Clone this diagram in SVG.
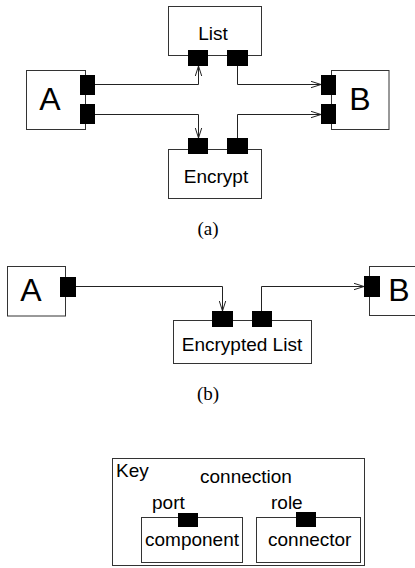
<svg xmlns="http://www.w3.org/2000/svg" width="415" height="568" viewBox="0 0 415 568">
<defs>
<style>
.box{fill:#fff;stroke:#333;stroke-width:1}
.port{fill:#000;stroke:none}
.wire{fill:none;stroke:#222;stroke-width:1}
.lbl{font-family:"Liberation Sans",Arial,sans-serif;font-size:19px;fill:#000}
.big{font-family:"Liberation Sans",Arial,sans-serif;font-size:32px;fill:#000}
.cap{font-family:"Liberation Serif","Times New Roman",serif;font-size:19px;fill:#000}
</style>
<marker id="arr" viewBox="0 0 10 8" refX="10" refY="4" markerWidth="10" markerHeight="8" markerUnits="userSpaceOnUse" orient="auto">
<path d="M0,0.8 L10,4 L0,7.2" fill="none" stroke="#222" stroke-width="1"/>
</marker>
</defs>
<rect width="415" height="568" fill="#fff"/>

<g id="connectors">
<polyline class="wire" points="95,84.5 198.5,84.5 198.5,66" marker-end="url(#arr)"/>
<polyline class="wire" points="95,114.5 198.5,114.5 198.5,138" marker-end="url(#arr)"/>
<polyline class="wire" points="237.5,66 237.5,84.5 321,84.5" marker-end="url(#arr)"/>
<polyline class="wire" points="237.5,138 237.5,114.5 321,114.5" marker-end="url(#arr)"/>
<polyline class="wire" points="76,286.5 222.5,286.5 222.5,311" marker-end="url(#arr)"/>
<polyline class="wire" points="261.5,311 261.5,286.5 364,286.5" marker-end="url(#arr)"/>
<polyline class="wire" points="188.5,513 188.5,488.5 306.5,488.5 306.5,512" marker-end="url(#arr)"/>
</g>

<g id="a-list">
<rect class="box" x="168.5" y="6.5" width="93" height="49"/>
<text class="lbl" x="213" y="40" text-anchor="middle">List</text>
<rect class="port" x="188" y="50" width="20" height="16"/>
<rect class="port" x="227" y="50" width="21" height="16"/>
</g>
<g id="a-A">
<rect class="box" x="26.5" y="70.5" width="59" height="59"/>
<text class="big" x="50" y="110" text-anchor="middle">A</text>
<rect class="port" x="80" y="75" width="15" height="20"/>
<rect class="port" x="80" y="104" width="15" height="20"/>
</g>
<g id="a-B">
<rect class="box" x="331.5" y="70.5" width="57.5" height="59"/>
<text class="big" x="360" y="110" text-anchor="middle">B</text>
<rect class="port" x="321" y="75" width="15" height="20"/>
<rect class="port" x="321" y="104" width="15" height="20"/>
</g>
<g id="a-encrypt">
<rect class="box" x="168.5" y="149.5" width="93" height="49"/>
<text class="lbl" x="216" y="183" text-anchor="middle">Encrypt</text>
<rect class="port" x="188" y="138" width="20" height="16"/>
<rect class="port" x="227" y="138" width="21" height="16"/>
</g>
<text class="cap" x="208" y="235" text-anchor="middle">(a)</text>

<g id="b-A">
<rect class="box" x="7.5" y="266.5" width="58" height="49.5"/>
<text class="big" x="31" y="301" text-anchor="middle">A</text>
<rect class="port" x="60" y="277" width="16" height="20"/>
</g>
<g id="b-encrypted-list">
<rect class="box" x="173.5" y="320.5" width="138" height="43"/>
<text class="lbl" x="242" y="351" text-anchor="middle">Encrypted List</text>
<rect class="port" x="212" y="311" width="21" height="16"/>
<rect class="port" x="252" y="311" width="20" height="16"/>
</g>
<g id="b-B">
<rect class="box" x="369.5" y="266.5" width="60" height="49"/>
<text class="big" x="399" y="301" text-anchor="middle">B</text>
<rect class="port" x="364" y="276" width="16" height="21"/>
</g>
<text class="cap" x="208" y="400" text-anchor="middle">(b)</text>

<g id="key">
<rect class="box" x="112.5" y="458.5" width="252" height="107"/>
<text class="lbl" x="116" y="477">Key</text>
<text class="lbl" x="200" y="483">connection</text>
<text class="lbl" x="152" y="509">port</text>
<text class="lbl" x="271" y="509">role</text>
</g>
<g id="key-component">
<rect class="box" x="141.5" y="517.5" width="101" height="45"/>
<text class="lbl" x="145" y="546">component</text>
<rect class="port" x="178" y="513" width="20" height="14"/>
</g>
<g id="key-connector">
<rect class="box" x="256.5" y="517.5" width="104" height="45"/>
<text class="lbl" x="268" y="546">connector</text>
<rect class="port" x="296" y="512" width="20" height="15"/>
</g>
</svg>
